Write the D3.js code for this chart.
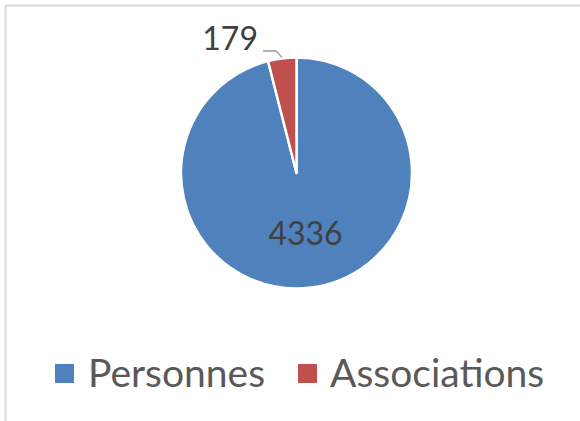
<!DOCTYPE html>
<html><head><meta charset="utf-8">
<script src="https://cdn.jsdelivr.net/npm/d3@7"></script>
<style>html,body{margin:0;padding:0;background:#fff;}svg{display:block;}</style>
</head><body>
<svg id="c" width="580" height="421"></svg>
<script>
const categories = ["Personnes", "Associations"];
const values = [4336, 179];
const colors = ["#4F81BD", "#C0504D"];

const svg = d3.select("#c");
const font = "Lato, 'Open Sans', sans-serif";

// chart border (top and left visible)
svg.append("path").attr("d", "M5.5,421 L5.5,5.5 L580,5.5")
  .attr("fill", "none").attr("stroke", "#d9d9d9").attr("stroke-width", 2);

const cx = 296.5, cy = 173, r = 115.5;
const data = categories.map((c, i) => ({cat: c, value: values[i]}));
const pie = d3.pie().value(d => d.value).sort(null);
const arcs = pie(data);
const arc = d3.arc().innerRadius(0).outerRadius(r);
const color = d3.scaleOrdinal().domain(categories).range(colors);

const g = svg.append("g").attr("transform", `translate(${cx},${cy})`);
g.selectAll("path.slice").data(arcs).enter().append("path")
  .attr("class", "slice")
  .attr("d", arc)
  .attr("fill", d => color(d.data.cat))
  .attr("stroke", "#fff").attr("stroke-width", 2.5).attr("stroke-linejoin", "round");

// label for big slice (inside)
g.append("text")
  .attr("x", 305.5 - cx).attr("y", 245 - cy)
  .attr("text-anchor", "middle")
  .attr("font-family", font).attr("font-size", 32)
  .attr("fill", "#404040").text(values[0]);

// label for small slice (outside with leader line)
const a1 = arcs[1];
const mid1 = (a1.startAngle + a1.endAngle) / 2;
const edge = [Math.sin(mid1) * (r + 1), -Math.cos(mid1) * (r + 1)];
svg.append("polyline")
  .attr("points", `263,51 276,51 ${cx + edge[0]},${cy + edge[1]}`)
  .attr("fill", "none").attr("stroke", "#999999").attr("stroke-width", 1.3);
svg.append("text")
  .attr("x", 258).attr("y", 50)
  .attr("text-anchor", "end")
  .attr("font-family", font).attr("font-size", 32)
  .attr("fill", "#404040").text(values[1]);

// legend
const legend = svg.append("g");
const legendItems = [
  {cat: categories[0], sx: 55, tx: 88},
  {cat: categories[1], sx: 298, tx: 330}
];
legendItems.forEach(it => {
  legend.append("rect").attr("x", it.sx).attr("y", 364).attr("width", 19).attr("height", 19)
    .attr("fill", color(it.cat));
  legend.append("text").attr("x", it.tx).attr("y", 387)
    .attr("font-family", font).attr("font-size", 39)
    .attr("fill", "#595959").text(it.cat);
});
</script>
</body></html>
